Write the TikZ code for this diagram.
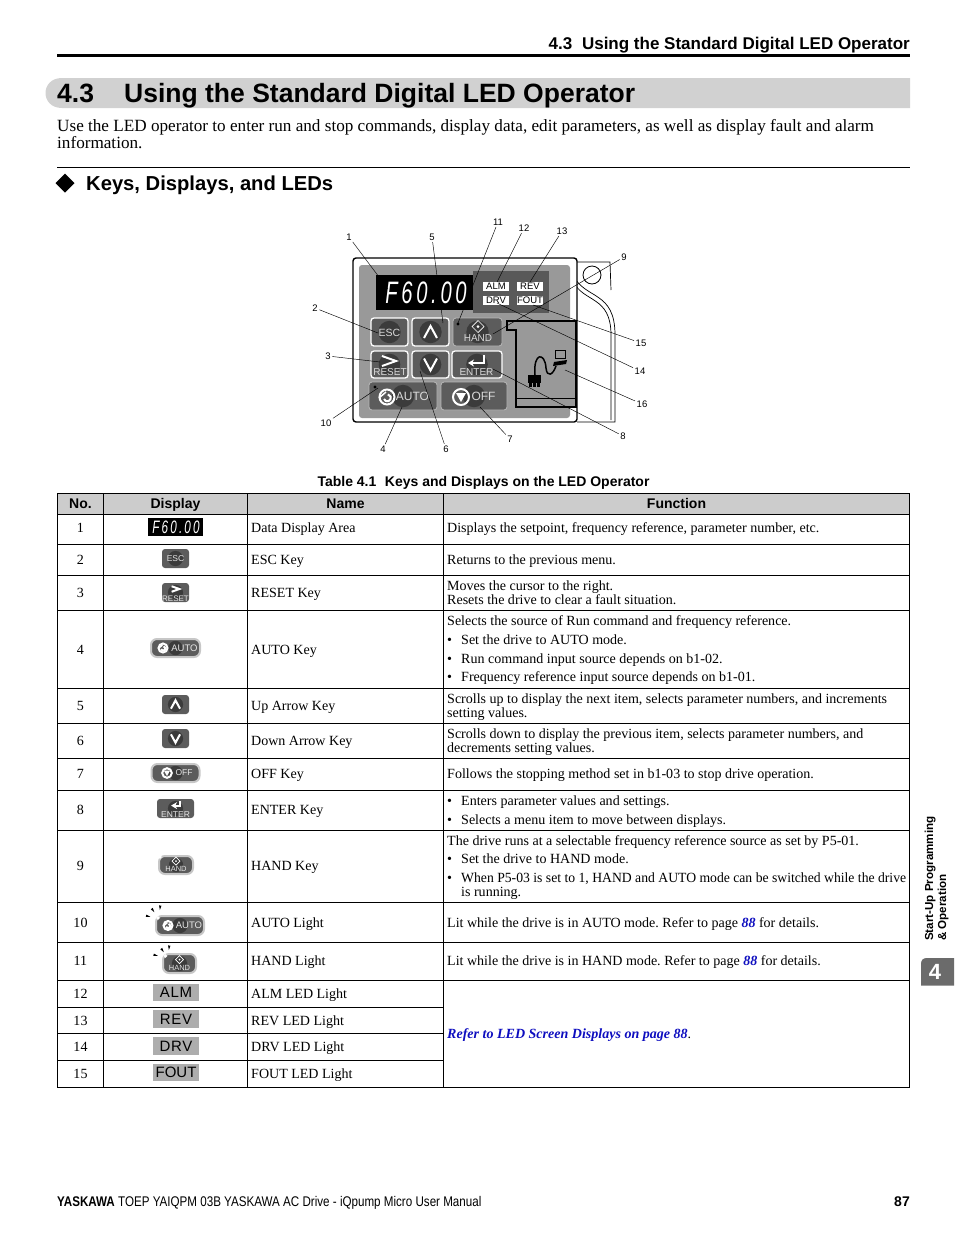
\documentclass[tikz,border=0pt]{standalone}
\usepackage{fontspec}
\usetikzlibrary{arrows.meta,positioning}
\setmainfont{Liberation Serif}
\setsansfont{Liberation Sans}
\newfontfamily\footfont[FakeStretch=0.83]{Liberation Sans}
\newfontfamily\ledfont[LetterSpace=4]{Liberation Sans}
\newfontfamily\segfont[FakeStretch=0.65,LetterSpace=12]{Liberation Sans}
\definecolor{bandgray}{gray}{0.82}
\definecolor{headgray}{gray}{0.80}
\definecolor{panelgray}{gray}{0.60}
\definecolor{darkpanel}{gray}{0.35}
\definecolor{keyface}{gray}{0.36}
\definecolor{keyshade}{gray}{0.23}
\definecolor{keyedge}{gray}{0.72}
\definecolor{haloedge}{gray}{0.78}
\definecolor{ledgray}{gray}{0.68}
\definecolor{tabgray}{gray}{0.42}
\definecolor{linkblue}{rgb}{0.05,0.05,0.75}
\newcommand{\tabfont}{\fontsize{14.03}{15}\selectfont}
\newcommand{\refpage}[1]{\textcolor{linkblue}{\textbf{\textit{#1}}}}
\tikzset{
    symline/.style={draw=white,line width=2pt,line join=miter},
    upsym/.pic={\draw[symline] (-6.5,6) -- (0,-6) -- (6.5,6);},
    downsym/.pic={\draw[symline] (-6.5,-6) -- (0,6) -- (6.5,-6);},
    rightsym/.pic={\draw[symline] (-7,-5) -- (7,0) -- (-7,5);},
    entersym/.pic={\draw[symline,-{Stealth[length=6pt,width=7pt]}] (8,-6) -- (8,2) -- (-8,2);},
    diamsym/.pic={\draw[draw=white,line width=.7pt] (-4,0) -- (0,-4) -- (4,0) -- (0,4) -- cycle;
        \fill[white] (-1,0) -- (0,-1) -- (1,0) -- (0,1) -- cycle;},
    autosym/.pic={\draw[symline,line width=2pt] (0,0) circle (7.5);
        \draw[symline,line width=2pt] (-3,2) arc (160:-80:3.5);
        \draw[symline,line width=1.5pt] (-8,1) -- (-1,-5);},
    offsym/.pic={\draw[symline,line width=2pt] (0,0) circle (8);
        \fill[white] (-5,-4) -- (5,-4) -- (0,5) -- cycle;},
    raysym/.pic={\fill[black] (-1.2,-3) -- (1.2,-3) -- (0,1.5) -- cycle;},
}
\begin{document}
\frenchspacing
\begin{tikzpicture}[
    x=1pt,y=-1pt,
    keybody/.style 2 args={
        rectangle,
        rounded corners=3pt,
        fill=keyface,
        minimum width=#1pt,
        minimum height=#2pt,
        inner sep=0pt,
        path picture={\fill[keyshade] (path picture bounding box.center) circle (#2*0.4);}},
    whiteedge/.style={draw=white,line width=1.3pt},
    greyedge/.style={draw=keyedge,line width=.8pt},
    haloed/.style={draw=haloedge,line width=2pt,rounded corners=6pt},
    keytext/.style={text=white!85!black,inner sep=0pt,font=\sffamily\fontsize{#1}{#1}\selectfont},
    keytext/.default=10,
    smalltext/.style={text=white!90!black,inner sep=0pt,font=\sffamily\fontsize{#1}{#1}\selectfont},
    smalltext/.default=8,
    ledtext/.style={fill=white,minimum width=26pt,minimum height=9pt,inner sep=0pt,font=\sffamily\fontsize{9.5}{9.5}\selectfont},
    ledcell/.style={fill=ledgray,minimum width=46pt,minimum height=17.5pt,inner sep=0pt,font=\sffamily\fontsize{15}{15}\selectfont},
    callout/.style={inner sep=1.5pt,font=\sffamily\fontsize{9.5}{9.5}\selectfont},
    leader/.style={draw=black,line width=.45pt},
    gridline/.style={draw=black,line width=.8pt},
    numcell/.style={anchor=base,inner sep=0pt,font=\tabfont},
    cell/.style={anchor=base west,inner sep=0pt,font=\tabfont},
    headcell/.style={anchor=base,inner sep=0pt,font=\sffamily\bfseries\fontsize{14}{14}\selectfont},
    ]
    \useasboundingbox (0,0) rectangle (954,1235);

    % running head and section title
    \node[anchor=base east,inner sep=0pt,font=\sffamily\bfseries\fontsize{17}{17}\selectfont] (runhead) at (910,49) {4.3\hspace{5pt} Using the Standard Digital LED Operator};
    \coordinate (headL) at (57,55.5);
    \coordinate (headR) at (910,55.5);
    \draw[line width=3pt] (headL) -- (headR);
    \fill[bandgray] (910,78) -- (62,78) .. controls (40,78) and (40,108) .. (62,108) -- (910,108) -- cycle;
    \node[anchor=base west,inner sep=0pt,font=\sffamily\bfseries\fontsize{26.5}{28}\selectfont] (secno) at (57,102.5) {4.3};
    \node[anchor=base west,inner sep=0pt,font=\sffamily\bfseries\fontsize{26.5}{28}\selectfont] (sectitle) at (124,102.5) {Using the Standard Digital LED Operator};
    \node[anchor=base west,inner sep=0pt,font=\fontsize{17.15}{18}\selectfont] (intro1) at (57,131) {Use the LED operator to enter run and stop commands, display data, edit parameters, as well as display fault and alarm};
    \node[anchor=base west,inner sep=0pt,font=\fontsize{17.15}{18}\selectfont] (intro2) at (57,148) {information.};
    \coordinate (ruleL) at (57,167.5);
    \coordinate (ruleR) at (910,167.5);
    \draw[line width=.8pt] (ruleL) -- (ruleR);
    \fill (55.5,183) -- (65,173.5) -- (74.5,183) -- (65,192.5) -- cycle;
    \node[anchor=base west,inner sep=0pt,font=\sffamily\bfseries\fontsize{20.2}{22}\selectfont] (subtitle) at (86,190) {Keys, Displays, and LEDs};

    % operator panel
    \draw[line width=.7pt] (577,262) -- (610,262) -- (611,290);
    \draw[line width=.7pt,fill=white] (573,275) .. controls (585,300) and (615,290) .. (615,335) -- (615,422) -- (577,422);
    \draw[line width=.7pt] (573,281) .. controls (583,303) and (611,295) .. (611,335) -- (611,420);
    \draw[line width=.8pt] (592,275) circle (9);
    \draw[line width=1.4pt,fill=white,rounded corners=3pt] (353,258) rectangle (577,422);
    \fill[panelgray,rounded corners=3pt] (359,265) rectangle (570,418);
    \fill[darkpanel] (473,271) rectangle (549,313);
    \fill[black] (376,275) rectangle (473,310);
    \node[text=white,inner sep=0pt,font=\segfont\itshape\fontsize{31}{31}\selectfont] (paneldata) at (426,292.5) {F60.00};
    \node[ledtext] (pnalm) at (496,286.5) {ALM};
    \node[ledtext] (pnrev) at (530,286.5) {REV};
    \node[ledtext] (pndrv) at (496,300.5) {DRV};
    \node[ledtext] (pnfout) at (530,300.5) {FOUT};

    \node[keybody={37}{28},whiteedge] (pnesc) at (389.5,332) {};
    \node[keybody={37}{28},whiteedge] (pnup) at (430.5,332) {};
    \node[keybody={49}{28},greyedge] (pnhand) at (477.5,332) {};
    \node[keybody={37}{27},whiteedge] (pnreset) at (389.5,364.5) {};
    \node[keybody={37}{27},whiteedge] (pndown) at (430.5,364.5) {};
    \node[keybody={50}{27},whiteedge] (pnenter) at (477,364.5) {};
    \node[keybody={68}{28},greyedge] (pnauto) at (403,396) {};
    \node[keybody={66}{28},greyedge] (pnoff) at (474,396) {};
    \node[keytext=10.5] (pnesct) at (389.5,333) {ESC};
    \node[keytext] (pnhandt) at (478,338) {HAND};
    \node[keytext] (pnresett) at (390,372.5) {RESET};
    \node[keytext] (pnentert) at (476.5,372.5) {ENTER};
    \node[keytext=12] (pnautot) at (412.5,396) {AUTO};
    \node[keytext=12] (pnofft) at (483.5,396) {OFF};
    \pic at (430.5,332) {upsym};
    \pic at (430.5,364.5) {downsym};
    \pic at (389,361) {rightsym};
    \pic at (476,361) {entersym};
    \pic[scale=1.5] at (478,326.5) {diamsym};
    \pic at (387,397) {autosym};
    \pic at (461,397) {offsym};
    \fill[black] (458,324) circle (1.7);
    \fill[black] (375,387) circle (1.7);

    % cable cover
    \draw[line width=1.4pt,fill=panelgray] (507,321) -- (576,321) -- (576,407) -- (516,407) -- (516,330) -- (507,330) -- cycle;
    \draw[line width=.8pt] (517,398) -- (575,398);
    \fill[black] (528,375) rectangle (541,383);
    \foreach \px in {529,533,537} {
        \fill[black] (\px,383) rectangle (\px+2.5,387);
    }
    \draw[line width=1.5pt] (535,375) .. controls (533,352) and (545,352) .. (546,368) .. controls (547,378) and (553,375) .. (556,366);
    \draw[line width=.8pt,fill=panelgray] (555,350) rectangle (565,358);
    \fill[black] (554,362) -- (567,360) -- (566,364) -- (553,366) -- cycle;

    % callouts and leaders
    \foreach \num/\lx/\ly/\tx/\ty in {1/349/237/388/289,5/432/237/443/323,11/498/222/458/323,12/524/228/497/282,
        13/562/231/530/282,9/624/257/493/334,2/315/308/378/333,3/328/356/380/362,
        10/326/423/378/388,4/383/449/402/407,6/446/449/420/371,7/510/439/480/407,
        8/623/436/493/369,16/642/404/565/370,14/640/371/497/303,15/641/343/533/305} {
        \node[callout] (lb\num) at (\lx,\ly) {\num};
        \coordinate (tp\num) at (\tx,\ty);
        \draw[leader] (lb\num) -- (tp\num);
    }

    % table
    \node[inner sep=0pt,font=\sffamily\bfseries\fontsize{14}{14}\selectfont] (caption) at (483.5,482.5) {Table 4.1\,\, Keys and Displays on the LED Operator};
    \fill[headgray] (57,493.5) rectangle (909.5,514);
    \foreach \yy [count=\i] in {493.5,514.5,544,575.5,610.5,688.5,723.5,758.5,790.5,830.5,902.5,942.5,980.5,1007,1033.5,1060.5,1087.5} {
        \coordinate (rowL\i) at (57,\yy);
        \coordinate (rowM\i) at (443.5,\yy);
        \coordinate (rowR\i) at (909.5,\yy);
    }
    \foreach \i in {1,...,13,17} {
        \draw[gridline] (rowL\i) -- (rowR\i);
    }
    \foreach \i in {14,15,16} {
        \draw[gridline] (rowL\i) -- (rowM\i);
    }
    \foreach \xx in {57.5,103.5,247.5,443.5,909.5} {
        \draw[gridline] (\xx,493.5) -- (\xx,1087.5);
    }
    \node[headcell] (hno) at (80.5,508.5) {No.};
    \node[headcell] (hdisp) at (175.5,508.5) {Display};
    \node[headcell] (hname) at (345.5,508.5) {Name};
    \node[headcell] (hfunc) at (676.5,508.5) {Function};

    \foreach \num/\yy/\label in {1/532/Data Display Area,2/564/ESC Key,3/597/RESET Key,4/654/AUTO Key,
        5/710/Up Arrow Key,6/745/Down Arrow Key,7/778/OFF Key,8/814/ENTER Key,9/870/HAND Key,
        10/927/AUTO Light,11/965/HAND Light,12/998/ALM LED Light,13/1025/REV LED Light,
        14/1051/DRV LED Light,15/1078/FOUT LED Light} {
        \node[numcell] (no\num) at (80.5,\yy) {\num};
        \node[cell] (name\num) at (251,\yy) {\label};
    }

    % function column
    \node[cell] (fn1) at (447,532) {Displays the setpoint, frequency reference, parameter number, etc.};
    \node[cell] (fn2) at (447,564) {Returns to the previous menu.};
    \node[cell] (fn3a) at (447,590) {Moves the cursor to the right.};
    \node[cell] (fn3b) at (447,604) {Resets the drive to clear a fault situation.};
    \node[cell] (fn4a) at (447,625.5) {Selects the source of Run command and frequency reference.};
    \node[cell] (fn4b) at (447,644) {•};
    \node[cell] (fn4c) at (461,644) {Set the drive to AUTO mode.};
    \node[cell] (fn4d) at (447,663) {•};
    \node[cell] (fn4e) at (461,663) {Run command input source depends on b1-02.};
    \node[cell] (fn4f) at (447,681.5) {•};
    \node[cell] (fn4g) at (461,681.5) {Frequency reference input source depends on b1-01.};
    \node[cell] (fn5a) at (447,703) {Scrolls up to display the next item, selects parameter numbers, and increments};
    \node[cell] (fn5b) at (447,717) {setting values.};
    \node[cell] (fn6a) at (447,738) {Scrolls down to display the previous item, selects parameter numbers, and};
    \node[cell] (fn6b) at (447,752) {decrements setting values.};
    \node[cell] (fn7) at (447,778) {Follows the stopping method set in b1-03 to stop drive operation.};
    \node[cell] (fn8a) at (447,805) {•};
    \node[cell] (fn8b) at (461,805) {Enters parameter values and settings.};
    \node[cell] (fn8c) at (447,824) {•};
    \node[cell] (fn8d) at (461,824) {Selects a menu item to move between displays.};
    \node[cell] (fn9a) at (447,845) {The drive runs at a selectable frequency reference source as set by P5-01.};
    \node[cell] (fn9b) at (447,863) {•};
    \node[cell] (fn9c) at (461,863) {Set the drive to HAND mode.};
    \node[cell] (fn9d) at (447,882) {•};
    \node[cell] (fn9e) at (461,882) {\scalebox{0.975}[1]{When P5-03 is set to 1, HAND and AUTO mode can be switched while the drive}};
    \node[cell] (fn9f) at (461,896) {is running.};
    \node[cell] (fn10) at (447,927) {Lit while the drive is in AUTO mode. Refer to page \refpage{88} for details.};
    \node[cell] (fn11) at (447,965) {Lit while the drive is in HAND mode. Refer to page \refpage{88} for details.};
    \node[cell] (fn12) at (447,1038) {\refpage{Refer to LED Screen Displays on page 88}.};

    % display column
    \node[fill=black,minimum width=55pt,minimum height=18pt,inner sep=0pt] (icdata) at (175.5,527) {};
    \node[text=white,inner sep=0pt,font=\segfont\itshape\fontsize{18}{18}\selectfont] (icdatat) at (176,527) {F60.00};
    \node[keybody={27}{19}] (icesc) at (175.5,558.5) {};
    \node[smalltext=8.5] (icesct) at (175.5,558.5) {ESC};
    \node[keybody={27}{19}] (icreset) at (175.5,592.5) {};
    \node[smalltext] (icresett) at (175.5,598.5) {RESET};
    \pic[scale=.55] at (175.5,589) {rightsym};
    \node[keybody={49}{18},haloed] (icauto) at (175.5,648) {};
    \node[smalltext=9.5] (icautot) at (184.5,648) {AUTO};
    \pic[scale=.6] at (163,648) {autosym};
    \node[keybody={27}{19}] (icup) at (175.5,704.5) {};
    \pic[scale=.7] at (175.5,704.5) {upsym};
    \node[keybody={27}{19}] (icdown) at (175.5,738.5) {};
    \pic[scale=.7] at (175.5,738.5) {downsym};
    \node[keybody={48}{18},haloed] (icoff) at (175.5,773) {};
    \node[smalltext=8.5] (icofft) at (184,773) {OFF};
    \pic[scale=.6] at (167,773) {offsym};
    \node[keybody={37}{19}] (icenter) at (175.5,808.5) {};
    \node[smalltext=8.5] (icentert) at (175.5,814.5) {ENTER};
    \pic[scale=.55] at (175.5,804.5) {entersym};
    \node[keybody={34}{18},haloed] (ichand) at (176,865) {};
    \node[smalltext=7.5] (ichandt) at (176,869) {HAND};
    \pic at (176,861) {diamsym};
    \fill[white] (160,857) circle (1.8);
    \node[keybody={48}{19},haloed] (iclit) at (180,925.5) {};
    \node[smalltext=9.5] (iclitt) at (189,925.5) {AUTO};
    \pic[scale=.6] at (168,925.5) {autosym};
    \fill[white] (158,918) circle (1.8);
    \pic[rotate=75] at (149,916.5) {raysym};
    \pic[rotate=35] at (153.5,911) {raysym};
    \pic[rotate=-5] at (160,908.5) {raysym};
    \node[keybody={33}{19},haloed] (ichlit) at (179.5,963.5) {};
    \node[smalltext=7.5] (ichlitt) at (179.5,968) {HAND};
    \pic at (179.5,959.5) {diamsym};
    \fill[white] (165.5,956) circle (1.8);
    \pic[rotate=75] at (156.5,955.5) {raysym};
    \pic[rotate=35] at (163,951) {raysym};
    \pic[rotate=-5] at (169,948.5) {raysym};
    \node[ledcell] (icalm) at (176,992.5) {\ledfont ALM};
    \node[ledcell] (icrev) at (176,1019) {\ledfont REV};
    \node[ledcell] (icdrv) at (176,1046) {\ledfont DRV};
    \node[ledcell] (icfout) at (176,1072.5) {FOUT};

    % side tab and footer
    \node[rotate=90,anchor=base west,inner sep=0pt,font=\sffamily\bfseries\fontsize{11.6}{11.6}\selectfont] (tab1) at (933,941) {Start-Up Programming};
    \node[rotate=90,anchor=base west,inner sep=0pt,font=\sffamily\bfseries\fontsize{11.6}{11.6}\selectfont] (tab2) at (946,941) {\&\ Operation};
    \fill[tabgray] (921,985.5) -- (921,964) .. controls (921,960) and (923,958) .. (927,958) -- (954,958) -- (954,985.5) -- cycle;
    \node[text=white,inner sep=0pt,font=\sffamily\bfseries\fontsize{22}{22}\selectfont] (tabno) at (935,971.5) {4};
    \node[anchor=base west,inner sep=0pt,font=\footfont\fontsize{14}{14}\selectfont] (foot) at (57,1206) {\textbf{YASKAWA} TOEP YAIQPM 03B YASKAWA AC Drive - iQpump Micro User Manual};
    \node[anchor=base east,inner sep=0pt,font=\sffamily\bfseries\fontsize{14}{14}\selectfont] (pageno) at (910,1206) {87};
\end{tikzpicture}
\end{document}
